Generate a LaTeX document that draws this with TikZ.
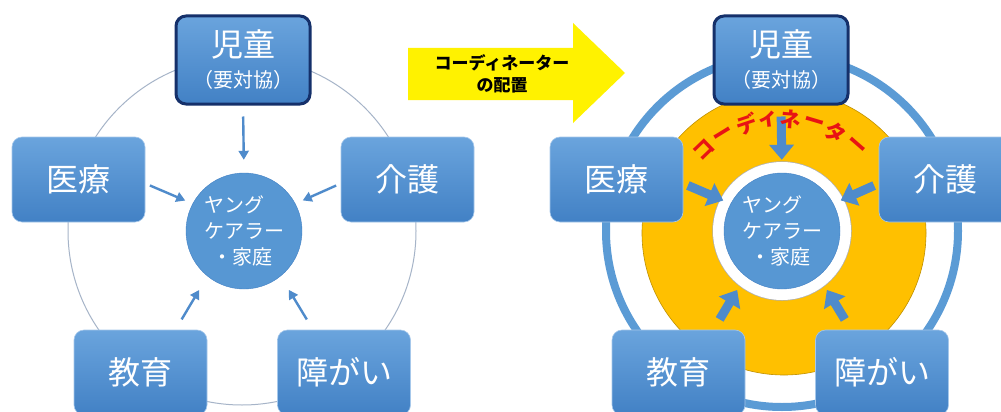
\documentclass[tikz,border=0pt]{standalone}
\usepackage{fontspec}
\setmainfont{Noto Sans CJK JP}
\usetikzlibrary{arrows.meta,positioning,calc}
\definecolor{Sky}{HTML}{6AA4DD}
\definecolor{Deep}{HTML}{4281C5}
\definecolor{Navy}{HTML}{15306A}
\definecolor{Ring}{HTML}{5B9BD5}
\definecolor{Flow}{HTML}{4F8BCB}
\definecolor{Amber}{HTML}{FFC000}
\definecolor{Rim}{HTML}{A6B4C8}
\definecolor{Alert}{HTML}{E81414}
\tikzset{
 area/.style={rounded corners=10pt,top color=Sky,bottom color=Deep,draw=Sky!60!white,line width=.6pt,text=white,font=\fontsize{32}{34}\selectfont,minimum width=133pt,minimum height=85pt,inner sep=2pt},
 child/.style={area,draw=Navy,line width=3pt,minimum width=134pt,minimum height=88pt,align=center},
 carer/.style={circle,fill=Ring!85!Deep,draw=Deep,minimum size=116pt,inner sep=0pt,text=white,align=left,font=\fontsize{20}{26}\selectfont},
 halo/.style={carer,preaction={draw=black!30,line width=23.5pt},preaction={draw=white,line width=22pt}},
 arr/.style={-{Triangle[length=9pt,width=10pt]},line width=2.4pt,draw=Flow},
 bigarr/.style={-{Triangle[length=15pt,width=24pt]},line width=9pt,draw=Flow},
 redtext/.style={text=Alert,font=\bfseries\fontsize{21}{21}\selectfont,inner sep=0pt}
}
\begin{document}
\begin{tikzpicture}[x=1pt,y=-1pt]
\useasboundingbox (0,0) rectangle (1001,412);
\clip (0,0) rectangle (1001,412);
\fill[white] (0,0) rectangle (1001,412);
% rings behind the boxes
\draw[Rim,line width=1pt] (242,231) circle[radius=174];
\draw[Ring,line width=8pt] (782,231) circle[radius=176];
\draw[Amber!75!black,line width=.6pt,fill=Amber] (784,233) circle[radius=142];
% yellow arrow
\fill[yellow] (408,48) -- (573,48) -- (573,23) -- (625,73) -- (573,123) -- (573,100) -- (408,100) -- cycle;
\node[font=\bfseries\fontsize{17}{22}\selectfont,align=center] (plan) at (502,74) {コーディネーター\\の配置};
% both networks
\foreach \s/\dx/\c/\a in {l/0/carer/arr,r/538/halo/bigarr} {
 \begin{scope}[xshift=\dx]
 \node[child] (kid\s) at (243,60) {児童\\[-3pt]{\fontsize{20}{22}\selectfont（要対協）}};
 \node[area] (med\s) at (78.5,179.5) {医療};
 \node[area] (care\s) at (407.5,179.5) {介護};
 \node[area] (edu\s) at (140.5,372.5) {教育};
 \node[area] (dis\s) at (344,372.5) {障がい};
 \node[\c] (yc\s) at (244,231) {ヤング\\ケアラー\\\hspace{.4em}・家庭};
 \end{scope}
 \draw[\a,shorten <=11pt,shorten >=13pt] (kid\s.south) -- (yc\s.north);
 \draw[\a,shorten <=5pt,shorten >=8pt] ([yshift=-4pt]med\s.east) -- (yc\s.152);
 \draw[\a,shorten <=5pt,shorten >=8pt] ([yshift=-4pt]care\s.west) -- (yc\s.28);
 \draw[\a,shorten <=12pt,shorten >=16pt] ([xshift=35pt]edu\s.north) -- (yc\s.231);
 \draw[\a,shorten <=12pt,shorten >=16pt] ([xshift=-31pt]dis\s.north) -- (yc\s.309);
}
% coordinator label on the arc
\foreach \ch/\ang [count=\i] in {コ/134,ー/121.5,デ/108.5,ィ/97,ネ/85.5,ー/73.5,タ/61.5,ー/49}
 \node[redtext,rotate=\ang-90] (co\i) at ($(ycr)+(-\ang:112)$) {\ch};
\end{tikzpicture}
\end{document}
